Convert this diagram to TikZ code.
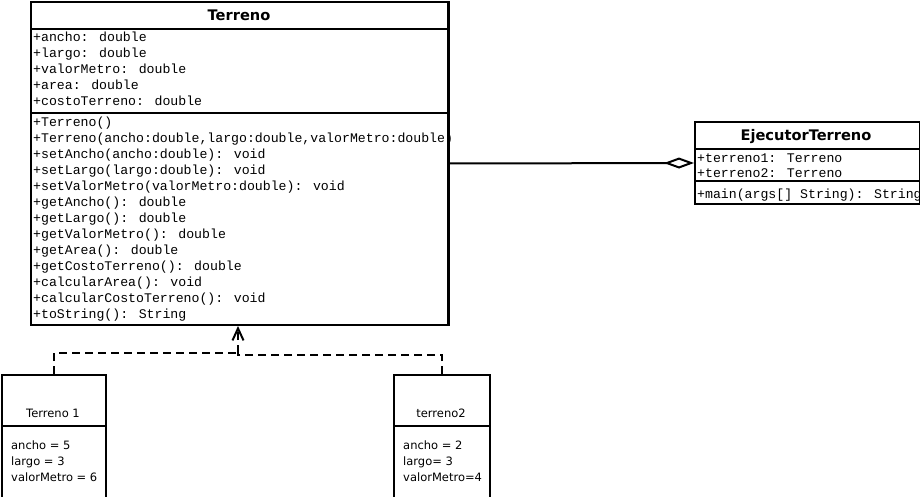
\documentclass[tikz,border=0pt]{standalone}
\usepackage{fontspec}
\usetikzlibrary{arrows.meta}
\newfontfamily\umlmono{Liberation Mono}
\newfontfamily\umlsans{DejaVu Sans}
\begin{document}
\begin{tikzpicture}[x=1pt,y=-1pt,
  box/.style={draw=black,line width=2pt,fill=white,inner sep=0pt,anchor=north west},
  sep/.style={line width=2pt},
  classname/.style={inner sep=0pt,anchor=base,font=\umlsans\bfseries\fontsize{14.6}{16}\selectfont},
  member/.style={inner sep=0pt,anchor=base west,font=\umlmono\fontsize{13.2}{16}\selectfont},
  objname/.style={inner sep=0pt,anchor=base,font=\umlsans\fontsize{11.5}{14}\selectfont},
  slot/.style={inner sep=0pt,anchor=base west,font=\umlsans\fontsize{11.5}{14}\selectfont},
  conn/.style={line width=2pt},
  realize/.style={line width=2pt,dash pattern=on 8pt off 5pt}]
\useasboundingbox (0,0) rectangle (920,497);
\clip (0,0) rectangle (920,497);

% class Terreno
\node[box,minimum width=418pt,minimum height=323pt] (terreno) at (30,1) {};
\draw[sep] (30,29) -- (448,29);
\draw[sep] (30,113) -- (448,113);
\node[classname] (tname) at (239,21) {Terreno};
\foreach \t [count=\i from 0] in {+ancho: double,+largo: double,+valorMetro: double,+area: double,+costoTerreno: double}
  \node[member] (tattr\i) at (33,42+16*\i) {\t};
\foreach \t [count=\i from 0] in {+Terreno(),+Terreno(ancho:double{,}largo:double{,}valorMetro:double),+setAncho(ancho:double): void,+setLargo(largo:double): void,+setValorMetro(valorMetro:double): void,+getAncho(): double,+getLargo(): double,+getValorMetro(): double,+getArea(): double,+getCostoTerreno(): double,+calcularArea(): void,+calcularCostoTerreno(): void,+toString(): String}
  \node[member] (tmeth\i) at (33,127+15.92*\i) {\t};
\draw[sep] (448,1) -- (448,324);

% class EjecutorTerreno
\node[box,minimum width=225pt,minimum height=82pt] (ejec) at (694,121) {};
\draw[sep] (694,149) -- (919,149);
\draw[sep] (694,181) -- (919,181);
\node[classname] (ename) at (806,141) {EjecutorTerreno};
\node[member] (eattr1) at (697,163) {+terreno1: Terreno};
\node[member] (eattr2) at (697,178) {+terreno2: Terreno};
\node[member] (emeth1) at (697,198) {+main(args[] String): String};

% aggregation
\draw[conn,-{Diamond[open,length=30pt,width=11pt,line width=2pt]}] (terreno.east) -- (ejec.west);

% object Terreno 1
\node[box,minimum width=104pt,minimum height=123pt] (obj1) at (1,374) {};
\draw[sep] (1,426) -- (105,426);
\node[objname] (o1name) at (53,417) {Terreno 1};
\node[slot] (o1a) at (11,449) {ancho = 5};
\node[slot] (o1b) at (11,465) {largo = 3};
\node[slot] (o1c) at (11,481) {valorMetro = 6};

% object terreno2
\node[box,minimum width=96pt,minimum height=123pt] (obj2) at (393,374) {};
\draw[sep] (393,426) -- (489,426);
\node[objname] (o2name) at (441,417) {terreno2};
\node[slot] (o2a) at (403,449) {ancho = 2};
\node[slot] (o2b) at (403,465) {largo= 3};
\node[slot] (o2c) at (403,481) {valorMetro=4};

% realization links
\coordinate (join) at (238,353);
\draw[realize] (obj1.north) -- (obj1.north |- join) -- (join);
\draw[realize] (obj2.north) -- ++(0,-19) -| (join);
\draw[realize,-{Straight Barb[length=12pt,width=11pt,line width=2pt]}] (join) -- (join |- terreno.south);
\end{tikzpicture}
\end{document}
